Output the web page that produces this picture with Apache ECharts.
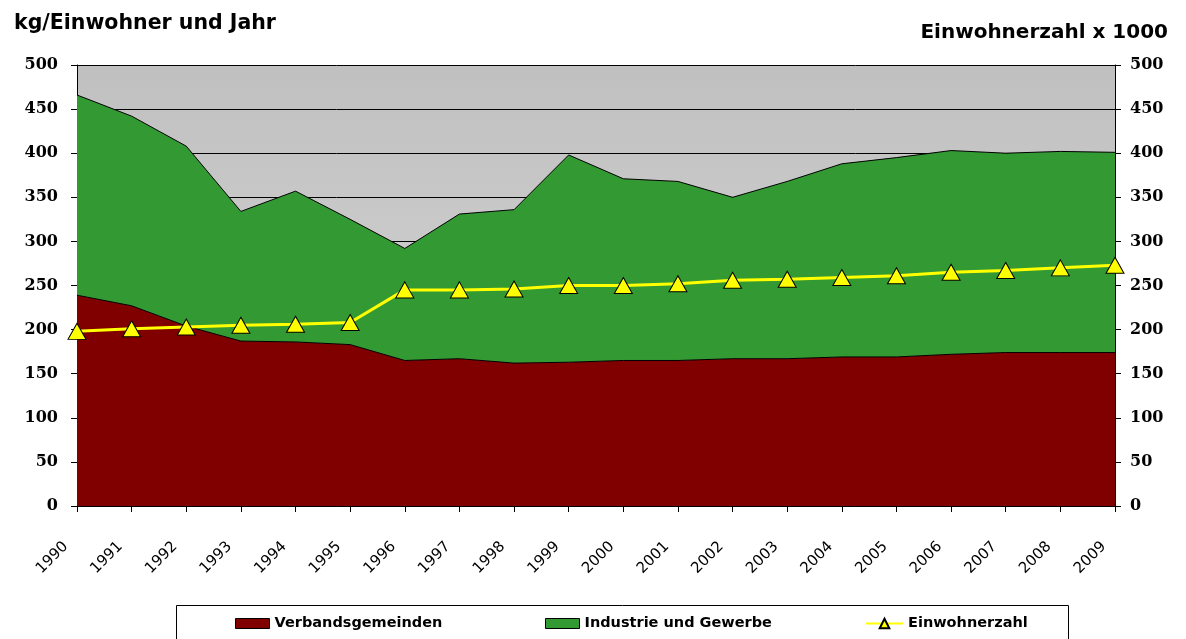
<!DOCTYPE html>
<html>
<head>
<meta charset="utf-8">
<script src="https://cdn.jsdelivr.net/npm/echarts@6/dist/echarts.min.js"></script>
<style>
  html, body { margin: 0; padding: 0; background: #fff; }
  #chart { width: 1186px; height: 639px; }
</style>
</head>
<body>
<div id="chart"></div>
<script>
// Jahre
const years = ['1990', '1991', '1992', '1993', '1994', '1995', '1996', '1997', '1998', '1999',
  '2000', '2001', '2002', '2003', '2004', '2005', '2006', '2007', '2008', '2009'];
// kg/Einwohner und Jahr
const verbandsgemeinden = [239, 227, 204, 187, 186, 183, 165, 167, 162, 163,
  165, 165, 167, 167, 169, 169, 172, 174, 174, 174];
const gesamt = [466, 442, 408, 334, 357, 325, 292, 331, 336, 398,
  371, 368, 350, 368, 388, 395, 403, 400, 402, 401];
// Einwohnerzahl x 1000
const einwohner = [198, 201, 203, 205, 206, 208, 245, 245, 246, 250,
  250, 252, 256, 257, 259, 261, 265, 267, 270, 273];
const yTicks = [0, 50, 100, 150, 200, 250, 300, 350, 400, 450, 500];

const industrie = gesamt.map((v, i) => v - verbandsgemeinden[i]);

const chart = echarts.init(document.getElementById('chart'));
const sans = '"DejaVu Sans", Verdana, sans-serif';
const serif = '"DejaVu Serif", serif';

const yAxisBase = {
  type: 'value',
  min: yTicks[0],
  max: yTicks[yTicks.length - 1],
  interval: 50,
  axisLine: { show: true, lineStyle: { color: '#000', width: 1 } },
  axisTick: { show: true, length: 6, lineStyle: { color: '#000' } },
  axisLabel: { color: '#000', fontFamily: serif, fontWeight: 'bold', fontSize: 16 },
};

const legendText = { color: '#000', fontFamily: sans, fontWeight: 'bold', fontSize: 14.5 };

chart.setOption({
  animation: false,
  backgroundColor: '#fff',
  title: [
    {
      text: 'kg/Einwohner und Jahr',
      left: 9, top: 8,
      textStyle: { color: '#000', fontFamily: sans, fontWeight: 'bold', fontSize: 20.5 },
    },
    {
      text: 'Einwohnerzahl x 1000',
      right: 13, top: 18,
      textStyle: { color: '#000', fontFamily: sans, fontWeight: 'bold', fontSize: 20 },
    },
  ],
  graphic: [
    {
      type: 'rect',
      shape: { x: 176.5, y: 605.5, width: 892, height: 50 },
      style: { fill: '#fff', stroke: '#000', lineWidth: 1 },
      z: -1,
    },
  ],
  legend: [
    {
      data: [{ name: 'Verbandsgemeinden', icon: 'rect' }], left: 230, top: 611,
      itemWidth: 34, itemHeight: 10, itemGap: 0,
      itemStyle: { borderColor: '#000', borderWidth: 1 },
      textStyle: legendText,
    },
    {
      data: [{ name: 'Industrie und Gewerbe', icon: 'rect' }], left: 540, top: 611,
      itemWidth: 34, itemHeight: 10, itemGap: 0,
      itemStyle: { borderColor: '#000', borderWidth: 1 },
      textStyle: legendText,
    },
    {
      data: ['Einwohnerzahl'], left: 860, top: 611,
      itemWidth: 37, itemHeight: 12, itemGap: 0,
      textStyle: legendText,
    },
  ],
  grid: {
    left: 77, right: 71, top: 65, bottom: 133,
    show: true,
    borderWidth: 0,
    backgroundColor: new echarts.graphic.LinearGradient(0, 0, 0, 1, [
      { offset: 0, color: '#c0c0c0' },
      { offset: 1, color: '#d8d8d8' },
    ]),
  },
  xAxis: {
    type: 'category',
    data: years,
    boundaryGap: false,
    axisLine: { show: true, lineStyle: { color: '#000', width: 1 } },
    axisTick: { show: true, length: 6, alignWithLabel: true, lineStyle: { color: '#000' } },
    axisLabel: {
      color: '#000', fontFamily: sans, fontSize: 15, rotate: 45, margin: 27, interval: 0,
      padding: [0, 16, 0, 0],
    },
    splitLine: { show: false },
  },
  yAxis: [
    Object.assign({}, yAxisBase, {
      position: 'left',
      axisLabel: Object.assign({}, yAxisBase.axisLabel, { margin: 19 }),
      splitLine: { show: true, lineStyle: { color: '#000', width: 1 } },
    }),
    Object.assign({}, yAxisBase, {
      position: 'right',
      axisLabel: Object.assign({}, yAxisBase.axisLabel, { margin: 15 }),
      splitLine: { show: false },
    }),
  ],
  series: [
    {
      name: 'Verbandsgemeinden',
      type: 'line',
      stack: 'menge',
      data: verbandsgemeinden,
      symbol: 'none',
      lineStyle: { color: '#000', width: 1 },
      itemStyle: { color: '#800000' },
      areaStyle: { color: '#800000', opacity: 1 },
      z: 2,
    },
    {
      name: 'Industrie und Gewerbe',
      type: 'line',
      stack: 'menge',
      data: industrie,
      symbol: 'none',
      lineStyle: { color: '#000', width: 1 },
      itemStyle: { color: '#339933' },
      areaStyle: { color: '#339933', opacity: 1 },
      z: 1,
    },
    {
      name: 'Einwohnerzahl',
      type: 'line',
      yAxisIndex: 1,
      data: einwohner,
      symbol: 'triangle',
      symbolSize: [18, 16],
      lineStyle: { color: '#ffff00', width: 3 },
      itemStyle: { color: '#ffff00', borderColor: '#000', borderWidth: 1 },
      z: 5,
    },
  ],
});
</script>
</body>
</html>
